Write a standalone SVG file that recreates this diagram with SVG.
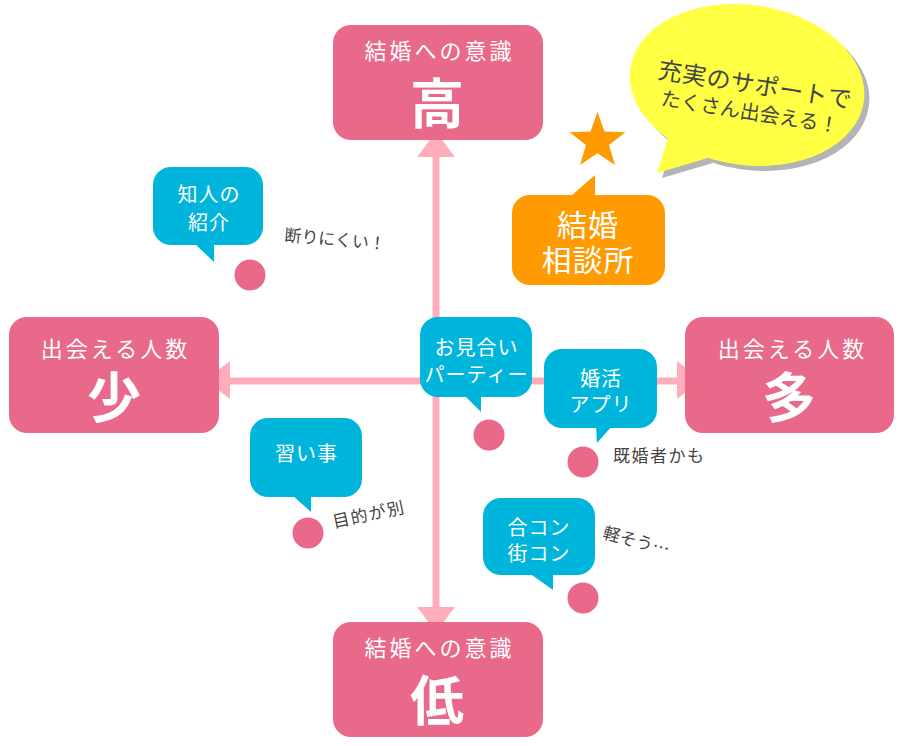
<svg xmlns="http://www.w3.org/2000/svg" width="905" height="746" viewBox="0 0 905 746">
<style>
.pink{fill:#E8698A}
.blue{fill:#00B5DC}
.orange{fill:#FF9A00}
.axis{stroke:#FFADBB;stroke-width:7;fill:none}
.ah{fill:#FFADBB}
.t{font-family:"Noto Sans CJK JP","Noto Sans",sans-serif;fill:#fff;text-anchor:middle}
.sub{font-size:22px;letter-spacing:3px}
.big{font-size:54px;font-weight:700}
.bt{font-size:20px;letter-spacing:1px}
.ot{font-size:30px;letter-spacing:1px}
.hw{font-family:"Noto Sans CJK JP",sans-serif;fill:#444;font-size:17px}
.yt{font-family:"Noto Sans CJK JP",sans-serif;fill:#444;font-weight:400}
</style>
<defs>
<g id="yshape">
<ellipse cx="747" cy="85" rx="118" ry="80" transform="rotate(8 747 85)"/>
<polygon points="668,138 657,173 708,158"/>
</g>
</defs>
<rect width="905" height="746" fill="#fff"/>
<g id="connectors">
<line class="axis" x1="436" y1="155" x2="436" y2="610"/>
<line class="axis" x1="228" y1="381" x2="678" y2="381"/>
<polygon class="ah" points="436,132 417,157 455,157"/>
<polygon class="ah" points="436,632 417,607 455,607"/>
<polygon class="ah" points="205,380 230,361 230,399"/>
<polygon class="ah" points="702,380 677,361 677,399"/>
</g>
<g id="high">
<rect class="pink" x="333" y="25" width="210" height="115" rx="18"/>
<text class="t sub" x="439.5" y="58.5">結婚への意識</text>
<text class="t big" x="437" y="124">高</text>
</g>
<g id="low">
<rect class="pink" x="333" y="622" width="210" height="115" rx="18"/>
<text class="t sub" x="439.5" y="655.5">結婚への意識</text>
<text class="t big" x="437" y="721">低</text>
</g>
<g id="few">
<rect class="pink" x="9" y="317" width="210" height="116" rx="18"/>
<text class="t sub" x="115.5" y="357">出会える人数</text>
<text class="t big" x="114" y="418">少</text>
</g>
<g id="many">
<rect class="pink" x="685" y="317" width="209" height="116" rx="18"/>
<text class="t sub" x="792.5" y="357">出会える人数</text>
<text class="t big" x="789" y="418">多</text>
</g>
<g id="yellow-bubble">
<use href="#yshape" fill="#B4B4B4" transform="translate(5 5)"/>
<use href="#yshape" fill="#FFFF44"/>
<text class="yt" font-size="24" letter-spacing="0.5" transform="translate(657 78) rotate(9)">充実のサポートで</text>
<text class="yt" font-size="20" transform="translate(660 105) rotate(9)">たくさん出会える！</text>
</g>
<g id="soudanjo">
<polygon class="orange" points="597.5,112 604.5,131.5 625.4,132.2 609,145 615,165 597.5,153.3 580,165 586,145 569.6,132.2 590.5,131.5"/>
<rect class="orange" x="512" y="195" width="153" height="90" rx="18"/>
<polygon class="orange" points="570,197 595,175 595,197"/>
<text class="t ot" x="588" y="236">結婚</text>
<text class="t ot" x="588" y="271">相談所</text>
</g>
<g id="chijin">
<rect class="blue" x="153" y="167" width="110" height="78" rx="18"/>
<polygon class="blue" points="194,243 214,262 214,243"/>
<text class="t bt" x="209" y="201.5">知人の</text>
<text class="t bt" x="209" y="230">紹介</text>
<circle class="pink" cx="250" cy="275" r="15.5"/>
<text class="hw" transform="translate(284 241) rotate(5)">断りにくい！</text>
</g>
<g id="naraigoto">
<rect class="blue" x="250" y="418" width="112" height="79" rx="18"/>
<polygon class="blue" points="292,495 311,512 311,495"/>
<text class="t bt" x="306.5" y="461">習い事</text>
<circle class="pink" cx="308" cy="533" r="15.5"/>
<text class="hw" letter-spacing="1.5" transform="translate(334 528) rotate(-12)">目的が別</text>
</g>
<g id="omiai">
<rect class="blue" x="420" y="317" width="112" height="80" rx="18"/>
<polygon class="blue" points="464,395 481,412 481,395"/>
<text class="t bt" x="476.5" y="355">お見合い</text>
<text class="t bt" x="476.5" y="382">パーティー</text>
<circle class="pink" cx="489" cy="435" r="15.5"/>
</g>
<g id="app">
<rect class="blue" x="544" y="349" width="113" height="79" rx="18"/>
<polygon class="blue" points="596,426 597,443 612,426"/>
<text class="t bt" x="601" y="386">婚活</text>
<text class="t bt" x="601" y="412">アプリ</text>
<circle class="pink" cx="583" cy="462" r="15.5"/>
<text class="hw" font-size="18" letter-spacing="1.5" x="613" y="462">既婚者かも</text>
</g>
<g id="goukon">
<rect class="blue" x="483" y="498" width="112" height="77" rx="18"/>
<polygon class="blue" points="529,573 553,590 553,573"/>
<text class="t bt" x="539" y="535">合コン</text>
<text class="t bt" x="539" y="561">街コン</text>
<circle class="pink" cx="583" cy="598" r="15.5"/>
<text class="hw" transform="translate(602 538) rotate(15)">軽そう…</text>
</g>
</svg>
